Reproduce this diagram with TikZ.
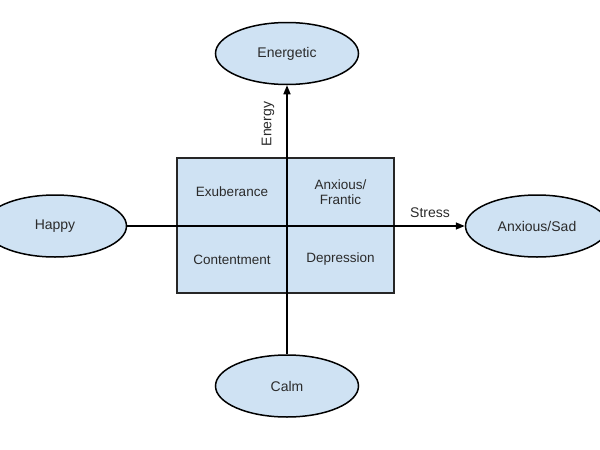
\documentclass[tikz,border=0pt]{standalone}
\usepackage{fontspec}
\setmainfont{Liberation Sans}
\usetikzlibrary{shapes.geometric,arrows.meta}
\definecolor{cellblue}{HTML}{CFE2F3}
\definecolor{txt}{HTML}{2B2B2B}
\tikzset{
  mood/.style={ellipse,draw=black,line width=1.5pt,fill=cellblue,minimum width=143pt,minimum height=62pt,inner sep=0pt,text=txt,font=\fontsize{14}{16}\selectfont},
  cell/.style={rectangle,draw=black!85,line width=1.5pt,fill=cellblue,inner sep=0pt,text=txt,align=center,font=\fontsize{13.5}{15.5}\selectfont},
  axis/.style={line width=1.5pt,-{Triangle[length=9pt,width=7pt]}},
  lab/.style={text=txt,font=\fontsize{14}{16}\selectfont,inner sep=0pt}
}
\begin{document}
\begin{tikzpicture}[x=1pt,y=-1pt]
\useasboundingbox[fill=white] (0,0) rectangle (600,450);
\node[cell,minimum width=110pt,minimum height=68pt] (exu) at (232,192) {Exuberance};
\node[cell,minimum width=107pt,minimum height=68pt] (anx) at (340.5,192) {Anxious/\\Frantic};
\node[cell,minimum width=110pt,minimum height=67pt] (con) at (232,259.5) {Contentment};
\node[cell,minimum width=107pt,minimum height=67pt] (dep) at (340.5,259.5) {Depression};
\node[mood] (ene) at (287,53.5) {Energetic};
\node[mood] (calm) at (287,386) {Calm};
\node[mood] (happy) at (55,226) {Happy};
\node[mood] (sad) at (537,226) {Anxious/Sad};
\draw[axis] (calm.north) -- (ene.south);
\draw[axis] (happy.east) -- (sad.west);
\node[lab,rotate=90] (energy) at (268,124) {Energy};
\node[lab] (stress) at (430,213) {Stress};
\end{tikzpicture}
\end{document}
